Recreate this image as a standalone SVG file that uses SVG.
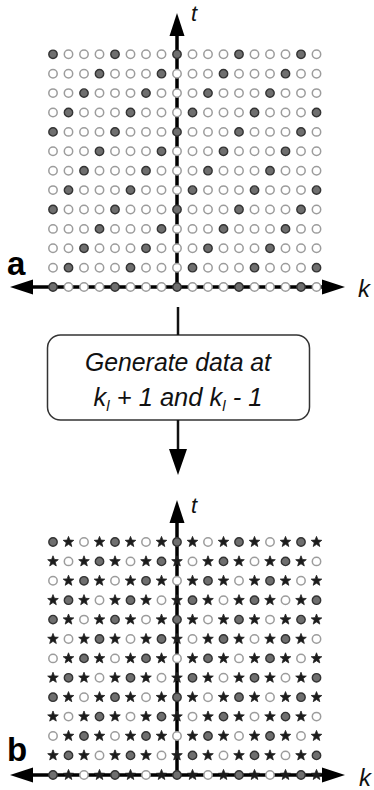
<svg xmlns="http://www.w3.org/2000/svg" xmlns:xlink="http://www.w3.org/1999/xlink" width="374" height="790" viewBox="0 0 374 790">
<style>
.ax{stroke:#000;stroke-width:3.5;fill:none}
.ah{fill:#000}
.g{fill:#6f6f6f;stroke:#333;stroke-width:1.4}
.o{fill:#fff;stroke:#9c9c9c;stroke-width:1.5}
.s{fill:#1c1c1c;stroke:#222;stroke-width:0.8;stroke-linejoin:round}
.lab{font-family:"Liberation Sans",Arial,sans-serif;font-style:italic;fill:#111}
.pl{font-family:"Liberation Sans",Arial,sans-serif;font-weight:bold;font-size:33px;fill:#000}
.bx{fill:#fff;stroke:#333;stroke-width:1.5}
.cn{stroke:#111;stroke-width:2.5;fill:none}
</style>
<defs>
<circle id="G" class="g" r="4.2"/>
<circle id="O" class="o" r="4.2"/>
<path id="S" class="s" d="M0,-5.6 L1.4,-1.9 L5.3,-1.7 L2.25,0.72 L3.3,4.5 L0,2.35 L-3.3,4.5 L-2.25,0.72 L-5.3,-1.7 L-1.4,-1.9Z"/>
<!-- top rows: filled where (c+k)%4==0 -->
<g id="a0"><use href="#G" x="53"/><use href="#O" x="68.5"/><use href="#O" x="84"/><use href="#O" x="99.5"/><use href="#G" x="115"/><use href="#O" x="130.5"/><use href="#O" x="146"/><use href="#O" x="161.5"/><use href="#G" x="177"/><use href="#O" x="192.5"/><use href="#O" x="208"/><use href="#O" x="223.5"/><use href="#G" x="239"/><use href="#O" x="254.5"/><use href="#O" x="270"/><use href="#O" x="285.5"/><use href="#G" x="301"/><use href="#O" x="316.5"/></g>
<g id="a1"><use href="#O" x="53"/><use href="#O" x="68.5"/><use href="#O" x="84"/><use href="#G" x="99.5"/><use href="#O" x="115"/><use href="#O" x="130.5"/><use href="#O" x="146"/><use href="#G" x="161.5"/><use href="#O" x="177"/><use href="#O" x="192.5"/><use href="#O" x="208"/><use href="#G" x="223.5"/><use href="#O" x="239"/><use href="#O" x="254.5"/><use href="#O" x="270"/><use href="#G" x="285.5"/><use href="#O" x="301"/><use href="#O" x="316.5"/></g>
<g id="a2"><use href="#O" x="53"/><use href="#O" x="68.5"/><use href="#G" x="84"/><use href="#O" x="99.5"/><use href="#O" x="115"/><use href="#O" x="130.5"/><use href="#G" x="146"/><use href="#O" x="161.5"/><use href="#O" x="177"/><use href="#O" x="192.5"/><use href="#G" x="208"/><use href="#O" x="223.5"/><use href="#O" x="239"/><use href="#O" x="254.5"/><use href="#G" x="270"/><use href="#O" x="285.5"/><use href="#O" x="301"/><use href="#O" x="316.5"/></g>
<g id="a3"><use href="#O" x="53"/><use href="#G" x="68.5"/><use href="#O" x="84"/><use href="#O" x="99.5"/><use href="#O" x="115"/><use href="#G" x="130.5"/><use href="#O" x="146"/><use href="#O" x="161.5"/><use href="#O" x="177"/><use href="#G" x="192.5"/><use href="#O" x="208"/><use href="#O" x="223.5"/><use href="#O" x="239"/><use href="#G" x="254.5"/><use href="#O" x="270"/><use href="#O" x="285.5"/><use href="#O" x="301"/><use href="#G" x="316.5"/></g>
<!-- bottom rows: G where (c+k)%4==0, O where ==2, S where odd -->
<g id="b0"><use href="#G" x="53"/><use href="#S" x="68.5"/><use href="#O" x="84"/><use href="#S" x="99.5"/><use href="#G" x="115"/><use href="#S" x="130.5"/><use href="#O" x="146"/><use href="#S" x="161.5"/><use href="#G" x="177"/><use href="#S" x="192.5"/><use href="#O" x="208"/><use href="#S" x="223.5"/><use href="#G" x="239"/><use href="#S" x="254.5"/><use href="#O" x="270"/><use href="#S" x="285.5"/><use href="#G" x="301"/><use href="#S" x="316.5"/></g>
<g id="b1"><use href="#S" x="53"/><use href="#O" x="68.5"/><use href="#S" x="84"/><use href="#G" x="99.5"/><use href="#S" x="115"/><use href="#O" x="130.5"/><use href="#S" x="146"/><use href="#G" x="161.5"/><use href="#S" x="177"/><use href="#O" x="192.5"/><use href="#S" x="208"/><use href="#G" x="223.5"/><use href="#S" x="239"/><use href="#O" x="254.5"/><use href="#S" x="270"/><use href="#G" x="285.5"/><use href="#S" x="301"/><use href="#O" x="316.5"/></g>
<g id="b2"><use href="#O" x="53"/><use href="#S" x="68.5"/><use href="#G" x="84"/><use href="#S" x="99.5"/><use href="#O" x="115"/><use href="#S" x="130.5"/><use href="#G" x="146"/><use href="#S" x="161.5"/><use href="#O" x="177"/><use href="#S" x="192.5"/><use href="#G" x="208"/><use href="#S" x="223.5"/><use href="#O" x="239"/><use href="#S" x="254.5"/><use href="#G" x="270"/><use href="#S" x="285.5"/><use href="#O" x="301"/><use href="#S" x="316.5"/></g>
<g id="b3"><use href="#S" x="53"/><use href="#G" x="68.5"/><use href="#S" x="84"/><use href="#O" x="99.5"/><use href="#S" x="115"/><use href="#G" x="130.5"/><use href="#S" x="146"/><use href="#O" x="161.5"/><use href="#S" x="177"/><use href="#G" x="192.5"/><use href="#S" x="208"/><use href="#O" x="223.5"/><use href="#S" x="239"/><use href="#G" x="254.5"/><use href="#S" x="270"/><use href="#O" x="285.5"/><use href="#S" x="301"/><use href="#G" x="316.5"/></g>
</defs>
<rect width="374" height="790" fill="#fff"/>

<g id="panel-a">
<line class="ax" x1="25" y1="287" x2="330" y2="287"/>
<line class="ax" x1="177" y1="287" x2="177" y2="30"/>
<polygon class="ah" points="10,287 33,279.5 33,294.5"/>
<polygon class="ah" points="345,287 322,279.5 322,294.5"/>
<polygon class="ah" points="177,13 169.5,36 184.5,36"/>
<use href="#a0" y="54.3"/><use href="#a1" y="73.7"/><use href="#a2" y="93.1"/><use href="#a3" y="112.5"/>
<use href="#a0" y="131.9"/><use href="#a1" y="151.3"/><use href="#a2" y="170.7"/><use href="#a3" y="190.1"/>
<use href="#a0" y="209.5"/><use href="#a1" y="228.9"/><use href="#a2" y="248.3"/><use href="#a3" y="267.7"/>
<use href="#a0" y="287"/>
<text class="lab" x="191" y="21" font-size="22">t</text>
<text class="lab" x="358" y="297" font-size="24">k</text>
<text class="pl" x="7" y="275">a</text>
</g>

<g id="node-generate">
<rect class="bx" x="47.5" y="335" width="262" height="85" rx="13"/>
<text class="lab" x="178" y="371" font-size="25.5" text-anchor="middle" textLength="186" lengthAdjust="spacingAndGlyphs">Generate data at</text>
<text class="lab" x="178" y="406" font-size="25.5" text-anchor="middle">k<tspan font-size="15" dy="5">l</tspan><tspan dy="-5"> + 1 and k</tspan><tspan font-size="15" dy="5">l</tspan><tspan dy="-5"> - 1</tspan></text>
</g>

<g id="connectors">
<line class="cn" x1="178" y1="307" x2="178" y2="335"/>
<line class="cn" x1="178" y1="420" x2="178" y2="452"/>
<polygon class="ah" points="178,475 169,449 187,449"/>
</g>

<g id="panel-b">
<line class="ax" x1="25" y1="775" x2="330" y2="775"/>
<line class="ax" x1="177" y1="775" x2="177" y2="517"/>
<polygon class="ah" points="10,775 33,767.5 33,782.5"/>
<polygon class="ah" points="345,775 322,767.5 322,782.5"/>
<polygon class="ah" points="177,500 169.5,523 184.5,523"/>
<use href="#b0" y="542"/><use href="#b1" y="561.4"/><use href="#b2" y="580.8"/><use href="#b3" y="600.2"/>
<use href="#b0" y="619.6"/><use href="#b1" y="639"/><use href="#b2" y="658.4"/><use href="#b3" y="677.8"/>
<use href="#b0" y="697.2"/><use href="#b1" y="716.6"/><use href="#b2" y="736"/><use href="#b3" y="755.4"/>
<use href="#b0" y="775"/>
<text class="lab" x="191" y="513" font-size="22">t</text>
<text class="lab" x="359" y="786" font-size="24">k</text>
<text class="pl" x="7" y="761">b</text>
</g>
</svg>
